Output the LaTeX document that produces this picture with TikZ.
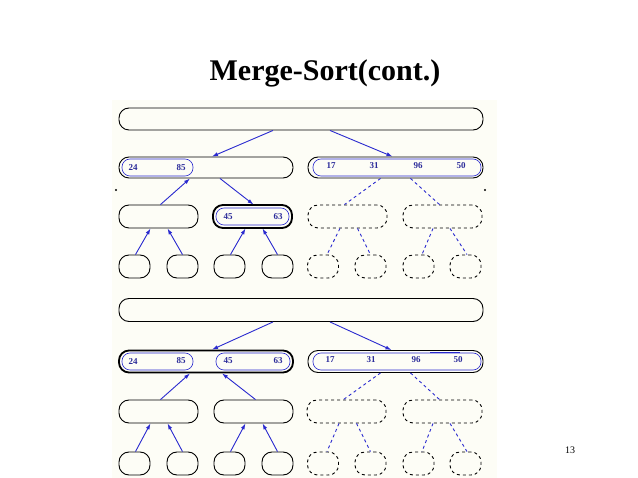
\documentclass[tikz,border=0pt]{standalone}
\usepackage{fontspec}
\setmainfont{Liberation Serif}
\usetikzlibrary{arrows.meta}
\definecolor{cream}{HTML}{FDFDF6}
\definecolor{ablue}{HTML}{2A2ACF}
\definecolor{tblue}{HTML}{2B2B9A}
\tikzset{
 capsule/.style={draw=black,line width=0.9pt,rounded corners=10pt,inner sep=0pt},
 dcap/.style={capsule,dashed},
 thick box/.style={line width=1.8pt},
 inn/.style={draw=ablue,line width=0.6pt,rounded corners=8pt,inner sep=0pt,minimum height=17pt},
 num/.style={text=tblue,font=\bfseries\fontsize{9}{9}\selectfont,inner sep=0pt},
 arr/.style={draw=ablue,line width=0.9pt,-{Latex[length=6pt,width=4pt]}},
 dl/.style={draw=ablue,line width=0.9pt,dashed},
}
\begin{document}
\begin{tikzpicture}[x=1pt,y=-1pt]
\useasboundingbox (0,0) rectangle (638,478);
\fill[cream] (112,100) rectangle (497,478);
\node[font=\bfseries\fontsize{30}{30}\selectfont] (title) at (325,73) {Merge-Sort(cont.)};
\node[font=\fontsize{10}{10}\selectfont] (pg) at (570,450) {13};
\fill (116,190) circle (1.2);
\fill (485,190) circle (1.2);
% ---------- top panel
\node[capsule,minimum width=364,minimum height=22] (T) at (301,119) {};
\node[capsule,minimum width=174,minimum height=21] (AL) at (206,167.5) {};
\node[capsule,minimum width=175,minimum height=21] (AR) at (395.5,167.5) {};
\node[inn,minimum width=71] (iA) at (157.5,167.5) {};
\node[num] (n1) at (133,168) {24};
\node[num] (n2) at (181,168) {85};
\node[inn,minimum width=168] (iB) at (397,167.5) {};
\node[num] (n3) at (331,166) {17};
\node[num] (n4) at (374,166) {31};
\node[num] (n5) at (418,166) {96};
\node[num] (n6) at (461,166) {50};
\foreach \n/\x in {B1/158.5,B2/252.5}{\node[capsule,minimum width=79,minimum height=23] (\n) at (\x,216.5) {};}
\foreach \n/\x in {B3/347.5,B4/442.5}{\node[dcap,minimum width=79,minimum height=23] (\n) at (\x,216.5) {};}
\path (B2) node[draw,thick box,rounded corners=10pt,minimum width=79,minimum height=23,inner sep=0pt] (B2t) {};
\node[inn,minimum width=73] (iC) at (252.5,216.5) {};
\node[num] (n7) at (228,217) {45};
\node[num] (n8) at (278,217) {63};
\foreach \n/\x in {C1/134.5,C2/182.5,C3/229.5,C4/277.5}{\node[capsule,minimum width=31,minimum height=23] (\n) at (\x,266.5) {};}
\foreach \n/\x in {C5/323,C6/370.5,C7/418.5,C8/465.5}{\node[dcap,minimum width=31,minimum height=23] (\n) at (\x,266.5) {};}
\draw[arr] ([xshift=-28]T.south) -- ([xshift=6]AL.north);
\draw[arr] ([xshift=29]T.south) -- ([xshift=-3]AR.north);
\draw[arr] ([xshift=2]B1.north) -- ([xshift=-16]AL.south);
\draw[arr] ([xshift=14]AL.south) -- ([xshift=1]B2.north);
\draw[dl] ([xshift=-15]AR.south) -- ([xshift=-3]B3.north);
\draw[dl] ([xshift=15]AR.south) -- ([xshift=-3]B4.north);
\draw[arr] ([xshift=1]C1.north) -- ([xshift=-8]B1.south);
\draw[arr] ([xshift=0]C2.north) -- ([xshift=9]B1.south);
\draw[arr] ([xshift=1]C3.north) -- ([xshift=-7]B2.south);
\draw[arr] ([xshift=0]C4.north) -- ([xshift=10]B2.south);
\draw[dl] ([xshift=-7.5]B3.south) -- ([xshift=4]C5.north);
\draw[dl] ([xshift=10]B3.south) -- ([xshift=0]C6.north);
\draw[dl] ([xshift=-9.5]B4.south) -- ([xshift=3.5]C7.north);
\draw[dl] ([xshift=7.5]B4.south) -- ([xshift=1.5]C8.north);
% ---------- bottom panel
\node[capsule,minimum width=364,minimum height=23] (T2) at (301,310) {};
\node[capsule,thick box,minimum width=174,minimum height=22] (DL) at (206,361.5) {};
\node[capsule,minimum width=175,minimum height=22] (DR) at (395.5,361.5) {};
\node[inn,minimum width=71] (iD) at (157.5,361.5) {};
\node[num] (m1) at (133,362) {24};
\node[num] (m2) at (181,361) {85};
\node[inn,minimum width=74] (iE) at (253,361.5) {};
\node[num] (m3) at (228,361) {45};
\node[num] (m4) at (278,361) {63};
\node[inn,minimum width=168] (iF) at (397,361.5) {};
\node[num] (m5) at (330,360) {17};
\node[num] (m6) at (371,360) {31};
\node[num] (m7) at (416,360) {96};
\node[num] (m8) at (458,360) {50};
\draw[ablue,line width=0.8pt] (iF.north) ++(33,0) coordinate (fa) -- ++(30,0) coordinate (fb);
\foreach \n/\x in {E1/158.5,E2/253.5}{\node[capsule,minimum width=79,minimum height=23] (\n) at (\x,411.5) {};}
\foreach \n/\x in {E3/346.5,E4/442.5}{\node[dcap,minimum width=79,minimum height=23] (\n) at (\x,411.5) {};}
\foreach \n/\x in {F1/134.5,F2/182.5,F3/229.5,F4/277.5}{\node[capsule,minimum width=31,minimum height=23] (\n) at (\x,463.5) {};}
\foreach \n/\x in {F5/323,F6/370.5,F7/418.5,F8/465.5}{\node[dcap,minimum width=31,minimum height=23] (\n) at (\x,463.5) {};}
\draw[arr] ([xshift=-28]T2.south) -- ([xshift=6]DL.north);
\draw[arr] ([xshift=29]T2.south) -- ([xshift=-4]DR.north);
\draw[arr] ([xshift=2]E1.north) -- ([xshift=-16]DL.south);
\draw[arr] ([xshift=2]E2.north) -- ([xshift=16]DL.south);
\draw[dl] ([xshift=-15]DR.south) -- ([xshift=-3]E3.north);
\draw[dl] ([xshift=15]DR.south) -- ([xshift=-3]E4.north);
\draw[arr] ([xshift=1]F1.north) -- ([xshift=-8]E1.south);
\draw[arr] ([xshift=0]F2.north) -- ([xshift=9]E1.south);
\draw[arr] ([xshift=1]F3.north) -- ([xshift=-8]E2.south);
\draw[arr] ([xshift=0]F4.north) -- ([xshift=9]E2.south);
\draw[dl] ([xshift=-7.5]E3.south) -- ([xshift=4]F5.north);
\draw[dl] ([xshift=10]E3.south) -- ([xshift=0]F6.north);
\draw[dl] ([xshift=-9.5]E4.south) -- ([xshift=3.5]F7.north);
\draw[dl] ([xshift=7.5]E4.south) -- ([xshift=1.5]F8.north);
\end{tikzpicture}
\end{document}
